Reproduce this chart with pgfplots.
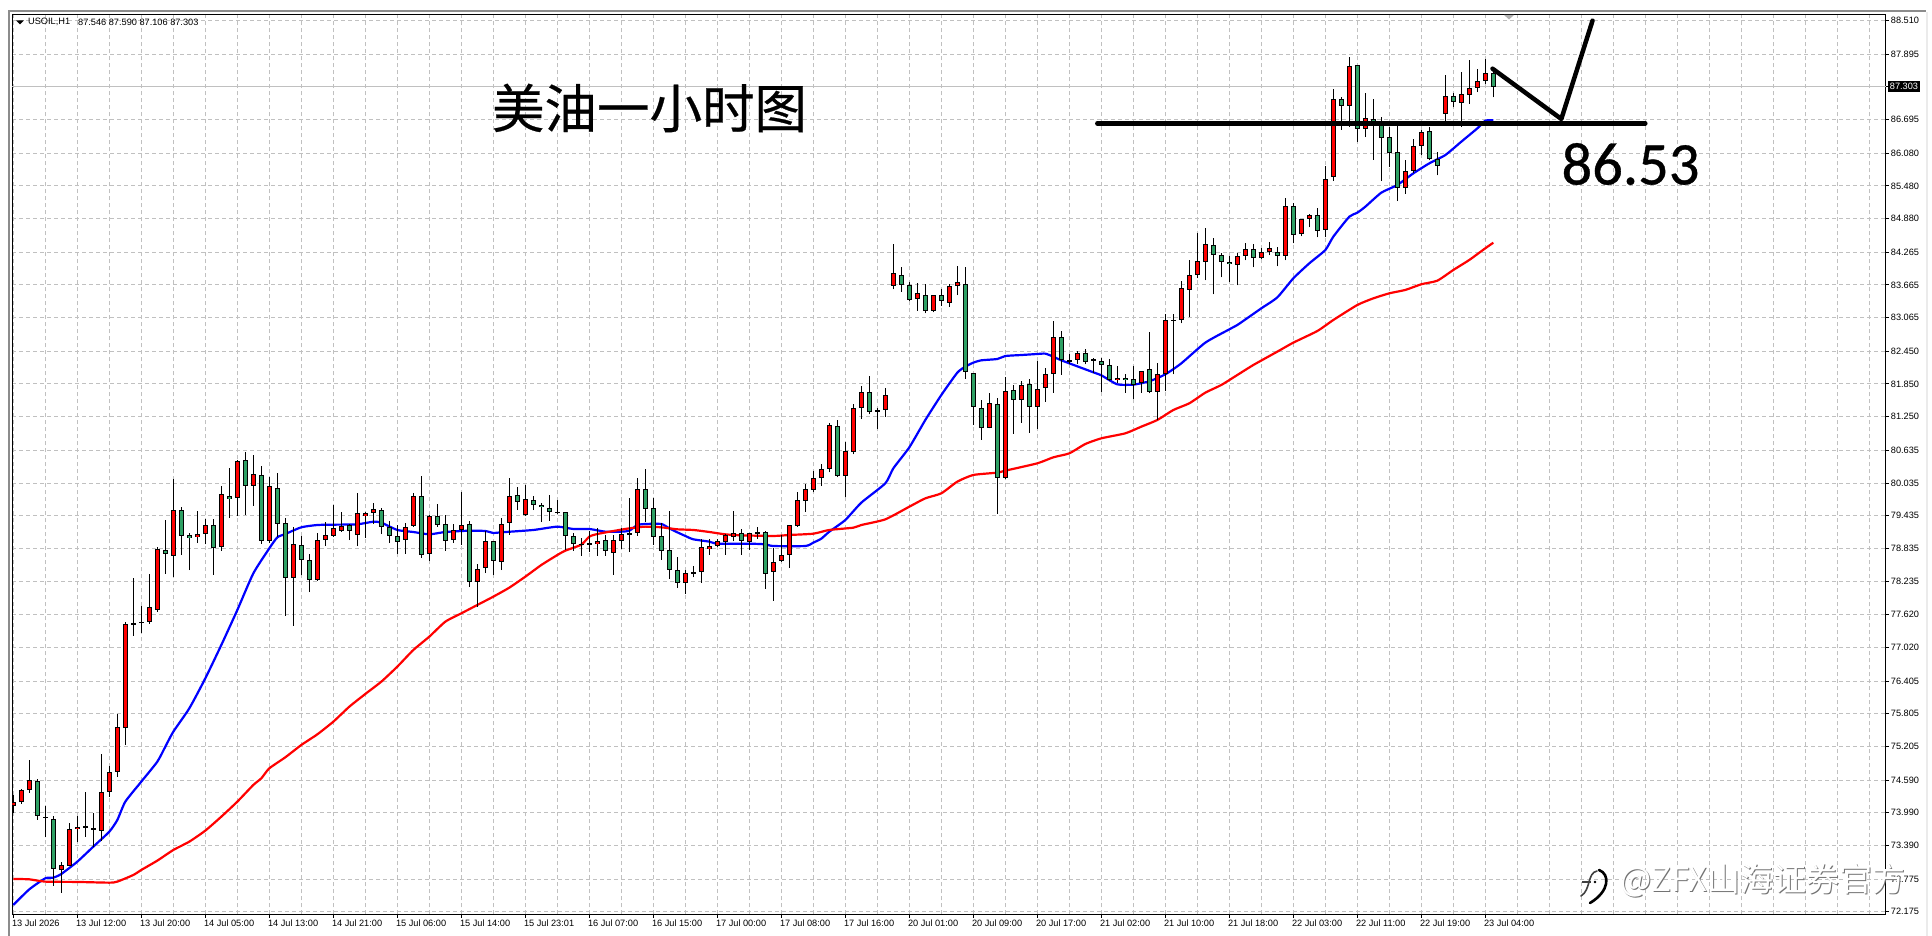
\documentclass[border=0pt]{standalone}
\usepackage{fontspec}
\setmainfont{Liberation Sans}
\newfontfamily\cjk{Noto Sans CJK SC}
\newfontfamily\cjkbig[FakeBold=0.5]{Noto Sans CJK SC}
\newfontfamily\car[FakeBold=0.6]{Carlito}
\usepackage{pgfplots}
\usepackage{pgfplotstable}
\pgfplotsset{compat=1.18}
\definecolor{gridc}{RGB}{192,192,192}
\definecolor{upc}{RGB}{255,0,0}
\definecolor{downc}{RGB}{46,160,100}
\pgfplotstableread{
i o h l c
0 74.121 74.316 73.992 74.182
1 74.182 74.426 74.157 74.402
2 74.402 74.958 74.359 74.585
3 74.567 74.603 73.864 73.937
4 73.907 74.115 73.540 73.907
5 73.870 73.925 72.654 72.954
6 72.948 73.082 72.526 73.027
7 73.021 73.797 73.015 73.687
8 73.687 73.931 73.449 73.724
9 73.736 74.371 73.552 73.736
10 73.705 73.992 73.369 73.669
11 73.663 75.068 73.479 74.365
12 74.365 74.848 74.280 74.732
13 74.732 75.801 74.652 75.557
14 75.551 77.487 75.233 77.445
15 77.457 78.294 77.231 77.457
16 77.481 77.781 77.286 77.481
17 77.481 78.367 77.457 77.756
18 77.713 78.862 77.677 78.819
19 78.801 79.357 78.367 78.740
20 78.691 80.109 78.318 79.534
21 79.534 79.589 78.715 79.070
22 79.076 79.119 78.440 79.021
23 79.039 79.522 78.935 79.094
24 79.094 79.381 78.911 79.259
25 79.259 79.375 78.349 78.838
26 78.856 79.980 78.795 79.827
27 79.791 80.310 79.400 79.748
28 79.754 80.457 79.430 80.432
29 80.451 80.603 79.449 79.974
30 79.974 80.548 79.614 80.194
31 80.176 80.347 78.923 78.966
32 78.978 80.145 78.935 79.974
33 79.937 80.219 79.039 79.278
34 79.296 79.388 77.603 78.288
35 78.300 79.223 77.420 78.911
36 78.893 79.064 78.343 78.618
37 78.618 78.728 78.037 78.251
38 78.251 79.113 78.245 78.984
39 78.997 79.314 78.880 79.076
40 79.070 79.632 79.045 79.204
41 79.149 79.504 79.143 79.241
42 79.259 79.284 78.990 79.149
43 79.088 79.852 78.880 79.479
44 79.436 79.498 79.027 79.479
45 79.491 79.669 79.290 79.553
46 79.534 79.577 79.100 79.223
47 79.223 79.339 78.935 79.070
48 79.058 79.259 78.734 78.960
49 78.997 79.302 78.734 79.223
50 79.241 79.846 79.235 79.791
51 79.791 80.164 78.667 78.709
52 78.728 79.443 78.606 79.424
53 79.424 79.650 79.235 79.259
54 79.278 79.443 78.789 78.966
55 78.997 79.278 78.942 79.168
56 79.180 79.870 78.899 79.259
57 79.278 79.333 78.129 78.214
58 78.214 78.544 77.768 78.453
59 78.471 79.149 78.385 78.966
60 78.966 78.966 78.349 78.599
61 78.581 79.388 78.440 79.278
62 79.296 80.127 79.082 79.791
63 79.809 79.962 79.540 79.681
64 79.443 79.999 79.430 79.736
65 79.717 79.797 79.540 79.626
66 79.626 79.663 79.320 79.589
67 79.571 79.815 79.339 79.498
68 79.498 79.724 79.461 79.498
69 79.498 79.498 78.807 79.058
70 79.058 79.113 78.795 78.911
71 78.911 79.021 78.697 78.911
72 78.917 79.161 78.770 78.917
73 78.911 79.204 78.697 78.966
74 78.984 79.082 78.703 78.783
75 78.758 79.082 78.349 78.984
76 78.978 79.216 78.832 79.094
77 79.100 79.760 78.777 79.100
78 79.113 80.127 79.070 79.919
79 79.919 80.292 79.314 79.553
80 79.571 79.760 78.905 79.039
81 79.058 79.296 78.624 78.783
82 78.801 79.522 78.282 78.434
83 78.434 78.673 78.117 78.196
84 78.196 78.434 78.007 78.379
85 78.392 78.514 78.306 78.392
86 78.398 79.003 78.208 78.856
87 78.819 79.003 78.722 78.874
88 78.874 79.003 78.856 78.966
89 78.948 79.094 78.722 79.076
90 79.039 79.522 78.966 79.113
91 79.113 79.186 78.722 78.966
92 78.948 79.113 78.807 79.113
93 79.125 79.223 79.015 79.125
94 79.131 79.149 78.098 78.361
95 78.398 78.838 77.878 78.581
96 78.599 79.076 78.593 78.709
97 78.709 79.259 78.483 79.259
98 79.247 79.864 79.235 79.717
99 79.699 80.011 79.510 79.919
100 79.901 80.255 79.864 80.121
101 80.121 80.383 79.980 80.286
102 80.286 81.129 80.231 81.092
103 81.074 81.184 80.139 80.157
104 80.157 80.781 79.772 80.616
105 80.597 81.477 80.561 81.404
106 81.404 81.807 81.208 81.697
107 81.697 81.997 81.294 81.331
108 81.331 81.404 81.025 81.367
109 81.367 81.770 81.251 81.642
110 83.640 84.416 83.585 83.878
111 83.842 83.988 83.542 83.658
112 83.658 83.713 83.365 83.383
113 83.402 83.695 83.194 83.512
114 83.475 83.677 83.145 83.182
115 83.182 83.475 83.164 83.475
116 83.475 83.585 83.286 83.365
117 83.329 83.677 83.267 83.640
118 83.640 84.007 83.481 83.713
119 83.677 83.988 81.948 82.064
120 82.045 82.045 81.104 81.422
121 81.404 81.550 80.830 81.037
122 81.049 81.679 81.037 81.496
123 81.477 81.587 79.473 80.121
124 80.121 81.972 80.102 81.715
125 81.734 81.825 80.939 81.550
126 81.550 81.899 81.141 81.825
127 81.844 81.935 80.958 81.422
128 81.422 82.265 81.031 81.752
129 81.770 82.137 81.526 82.027
130 82.027 82.999 81.691 82.705
131 82.705 82.815 82.015 82.284
132 82.271 82.394 82.210 82.271
133 82.284 82.449 82.216 82.412
134 82.412 82.485 82.210 82.247
135 82.290 82.320 82.045 82.290
136 82.265 82.320 81.703 82.192
137 82.192 82.302 81.899 81.917
138 81.917 82.180 81.862 81.954
139 81.954 82.027 81.691 81.917
140 81.935 82.180 81.581 81.825
141 81.862 82.082 81.691 82.082
142 82.119 82.797 81.679 81.697
143 81.697 82.229 81.190 82.027
144 82.027 83.127 81.715 83.017
145 83.023 83.127 82.027 83.023
146 83.017 83.732 82.962 83.603
147 83.567 84.123 83.072 83.842
148 83.842 84.624 83.787 84.098
149 84.080 84.709 83.750 84.410
150 84.392 84.526 83.493 84.208
151 84.208 84.245 83.805 84.080
152 84.080 84.190 83.726 84.043
153 84.025 84.245 83.658 84.190
154 84.190 84.428 84.117 84.318
155 84.318 84.410 83.988 84.153
156 84.153 84.337 84.135 84.263
157 84.263 84.447 84.208 84.337
158 84.263 84.355 84.007 84.190
159 84.190 85.253 84.117 85.107
160 85.107 85.162 84.428 84.575
161 84.593 84.868 84.557 84.868
162 84.868 84.966 84.722 84.942
163 84.942 85.070 84.538 84.648
164 84.667 85.846 84.538 85.601
165 85.638 87.257 85.577 87.068
166 87.068 87.104 86.506 86.940
167 86.940 87.844 86.567 87.673
168 87.691 87.691 86.286 86.518
169 86.518 87.184 86.377 86.720
170 86.701 87.068 85.956 86.597
171 86.628 86.738 85.571 86.353
172 86.371 86.555 85.827 86.090
173 86.096 86.610 85.204 85.436
174 85.436 85.950 85.333 85.748
175 85.748 86.335 85.711 86.206
176 86.219 86.506 86.047 86.463
177 86.481 86.555 85.950 85.968
178 85.968 86.096 85.675 85.840
179 86.793 87.514 86.610 87.123
180 87.123 87.184 86.927 87.013
181 86.995 87.569 86.567 87.159
182 87.141 87.789 86.988 87.269
183 87.269 87.624 87.202 87.398
184 87.398 87.807 87.355 87.544
185 87.546 87.590 87.106 87.303
}\candles
\pgfplotstableread{
i v
0 72.300
2 72.587
4 72.789
5 72.801
6 72.868
8 73.094
10 73.369
12 73.644
13 73.858
14 74.194
16 74.561
18 74.927
19 75.202
20 75.477
22 75.905
24 76.455
26 77.066
28 77.707
30 78.379
32 78.838
33 79.039
34 79.100
36 79.223
38 79.265
40 79.271
43 79.278
45 79.326
46 79.308
48 79.174
50 79.137
52 79.094
54 79.137
57 79.161
59 79.155
60 79.119
61 79.131
65 79.174
68 79.235
70 79.192
72 79.192
74 79.143
76 79.143
77 79.161
78 79.265
79 79.284
81 79.284
82 79.204
83 79.131
84 79.064
85 79.003
87 78.960
88 78.923
92 78.923
94 78.911
95 78.880
99 78.880
100 78.942
101 79.015
102 79.143
104 79.357
106 79.675
109 80.029
110 80.304
112 80.689
114 81.190
116 81.648
118 82.058
119 82.168
120 82.241
121 82.284
123 82.308
124 82.363
126 82.381
128 82.400
129 82.406
130 82.351
131 82.284
135 82.064
136 82.009
138 81.844
140 81.838
142 81.899
144 82.027
146 82.229
149 82.608
152 82.852
153 82.931
156 83.237
158 83.438
160 83.787
162 84.062
164 84.306
165 84.551
167 84.917
168 84.990
169 85.100
171 85.357
173 85.498
175 85.711
177 85.895
179 86.047
181 86.292
183 86.536
184 86.677
185 86.683
}\bluema
\pgfplotstableread{
i v
0 72.777
2 72.770
4 72.728
8 72.722
12 72.709
13 72.728
15 72.850
16 72.942
18 73.113
20 73.308
22 73.461
24 73.663
26 73.919
28 74.194
30 74.500
31 74.622
32 74.805
34 75.007
36 75.233
38 75.428
40 75.660
42 75.935
44 76.168
46 76.394
48 76.669
50 76.974
52 77.219
54 77.493
56 77.646
58 77.799
60 77.952
62 78.117
64 78.318
66 78.532
68 78.715
69 78.795
71 78.905
72 79.052
73 79.100
75 79.155
77 79.204
79 79.235
81 79.223
83 79.186
85 79.174
87 79.137
89 79.094
91 79.076
95 79.064
97 79.082
100 79.106
102 79.174
105 79.216
106 79.265
109 79.369
112 79.601
114 79.754
116 79.846
118 80.060
120 80.182
123 80.225
124 80.261
128 80.396
130 80.506
132 80.579
134 80.750
136 80.854
139 80.946
141 81.068
143 81.190
145 81.373
147 81.496
149 81.691
151 81.832
153 82.015
155 82.198
158 82.443
160 82.608
163 82.821
165 83.023
168 83.298
170 83.420
172 83.512
174 83.574
176 83.678
178 83.744
180 83.940
182 84.124
184 84.338
185 84.440
}\redma
\begin{document}
\begin{tikzpicture}[x=1pt,y=1pt]
\path[use as bounding box] (0,0) rectangle (1932,936);
\fill[white] (0,0) rectangle (1932,936);
\begin{axis}[
  at={(12.3pt,21.7pt)},anchor=south west,
  scale only axis,width=1873.4pt,height=900pt,
  xmin=-0.129,xmax=234.05,ymin=72.129,ymax=88.627,
  axis line style={black,line width=1.3pt},
  tick style={black,line width=1pt},
  major tick length=3.5pt,minor tick length=0pt,
  tick align=outside,
  xtick pos=bottom,ytick pos=right,yticklabel pos=right,
  xtick={0,8,...,184},
  minor xtick={4,12,20,28,36,44,52,60,68,76,84,92,100,108,116,124,132,140,148,156,164,172,180,188,192,196,200,204,208,212,216,220,224,228,232},
  xticklabels={13 Jul 2026,13 Jul 12:00,13 Jul 20:00,14 Jul 05:00,14 Jul 13:00,14 Jul 21:00,15 Jul 06:00,15 Jul 14:00,15 Jul 23:01,16 Jul 07:00,16 Jul 15:00,17 Jul 00:00,17 Jul 08:00,17 Jul 16:00,20 Jul 01:00,20 Jul 09:00,20 Jul 17:00,21 Jul 02:00,21 Jul 10:00,21 Jul 18:00,22 Jul 03:00,22 Jul 11:00,22 Jul 19:00,23 Jul 04:00},
  ytick={72.175,72.775,73.39,73.99,74.59,75.205,75.805,76.405,77.02,77.62,78.235,78.835,79.435,80.035,80.635,81.25,81.85,82.45,83.065,83.665,84.265,84.88,85.48,86.08,86.695,87.895,88.51},
  yticklabels={72.175,72.775,73.390,73.990,74.590,75.205,75.805,76.405,77.020,77.620,78.235,78.835,79.435,80.035,80.635,81.250,81.850,82.450,83.065,83.665,84.265,84.880,85.480,86.080,86.695,87.895,88.510},
  extra y ticks={87.303},
  extra y tick labels={87.303},
  extra y tick style={
    major grid style={solid,gridc,line width=1pt},
    yticklabel style={fill=black,text=white,inner xsep=2pt,inner ysep=2.5pt,xshift=-2pt}},
  xticklabel style={anchor=north west,font=\fontsize{9.2}{11}\selectfont,xshift=-1.5pt,yshift=0pt,inner xsep=0pt,inner ysep=2pt},
  yticklabel style={anchor=west,font=\fontsize{9.2}{11}\selectfont,xshift=0.5pt,inner xsep=1pt},
  grid=both,
  major grid style={gridc,line width=1pt,dash pattern=on 4pt off 3pt},
  minor grid style={gridc,line width=1pt,dash pattern=on 4pt off 3pt},
  unbounded coords=discard,
]
\addplot[blue,line width=2.2pt,line join=round,smooth,tension=0.35,forget plot] table[x=i,y=v]{\bluema};
\addplot[upc,line width=2.2pt,line join=round,smooth,tension=0.35,forget plot] table[x=i,y=v]{\redma};
% wicks
\addplot[draw=none,forget plot,error bars/.cd,y dir=plus,y explicit,error mark=none,
  error bar style={draw=black,line width=1.2pt,solid}]
  table[x=i,y=l,y error plus expr=\thisrow{h}-\thisrow{l}]{\candles};
% body outlines
\addplot[draw=none,forget plot,error bars/.cd,y dir=both,y explicit,error mark=none,
  error bar style={draw=black,line width=5pt,solid}]
  table[x=i,y expr=(\thisrow{o}+\thisrow{c})/2,y error expr={max(abs(\thisrow{c}-\thisrow{o})/2,0.010)}]{\candles};
% rising bodies
\addplot[draw=none,forget plot,error bars/.cd,y dir=both,y explicit,error mark=none,
  error bar style={draw=upc,line width=3pt,solid}]
  table[x=i,y expr={\thisrow{c}>\thisrow{o}?(\thisrow{o}+\thisrow{c})/2:nan},y error expr={max(abs(\thisrow{c}-\thisrow{o})/2-0.018,0)}]{\candles};
% falling bodies
\addplot[draw=none,forget plot,error bars/.cd,y dir=both,y explicit,error mark=none,
  error bar style={draw=downc,line width=3pt,solid}]
  table[x=i,y expr={\thisrow{c}<\thisrow{o}?(\thisrow{o}+\thisrow{c})/2:nan},y error expr={max(abs(\thisrow{c}-\thisrow{o})/2-0.018,0)}]{\candles};
% hand-drawn annotation lines
\addplot[black,line width=4.5pt,line cap=round,forget plot] coordinates {(135.5,86.629)(204,86.629)};
\addplot[black,line width=4.5pt,line cap=round,line join=round,forget plot] coordinates {(184.9,87.63)(193.5,86.708)(197.4,88.51)};
\end{axis}
\begin{scope}[shift={(0,936)},y=-1pt]
  % window chrome
  \fill[black!45] (8,10) rectangle (1926,12);
  \fill[black!45] (8,10) rectangle (10,936);
  \fill[black!8] (1926,12) rectangle (1927.5,936);
  % top marker
  \fill[black!30] (1504,15) -- (1514,15) -- (1509,19.5) -- cycle;
  % header
  \fill[black] (16,20.5) -- (24,20.5) -- (20,24.5) -- cycle;
  \node[anchor=west,inner sep=0pt,font=\fontsize{9.2}{11}\selectfont] at (28,22.3) {USOIL,H1};
  \node[anchor=west,inner sep=0pt,font=\fontsize{9.2}{11}\selectfont] at (78,22.3) {87.546 87.590 87.106 87.303};
  % big texts
  \node[anchor=center,inner sep=0pt,font=\fontsize{52.5}{60}\selectfont\cjkbig] at (649.5,108) {美油一小时图};
  \node[anchor=center,inner sep=0pt,font=\fontsize{60.5}{70}\selectfont\car] at (1630.5,164) {86.53};
  % watermark
  \node[anchor=west,inner sep=0pt,text=black!55,font=\fontsize{33}{36}\selectfont\cjk] at (1621,881.5) {@ZFX山海证券官方};
  \node[anchor=west,inner sep=0pt,text=white,font=\fontsize{33}{36}\selectfont\cjk] at (1620,880.5) {@ZFX山海证券官方};
  % watermark logo
  \draw[black,line width=2.6pt,line cap=round] (1599,870) .. controls (1610,874) and (1610,891) .. (1590,903);
  \draw[black!75,line width=1.6pt,line cap=round] (1597,871) .. controls (1587,873) and (1591,890) .. (1581,896);
  \draw[black!75,line width=1.4pt] (1582,882) -- (1591,882);
  \fill[black] (1595,882) circle (1.4);
\end{scope}
\end{tikzpicture}
\end{document}
